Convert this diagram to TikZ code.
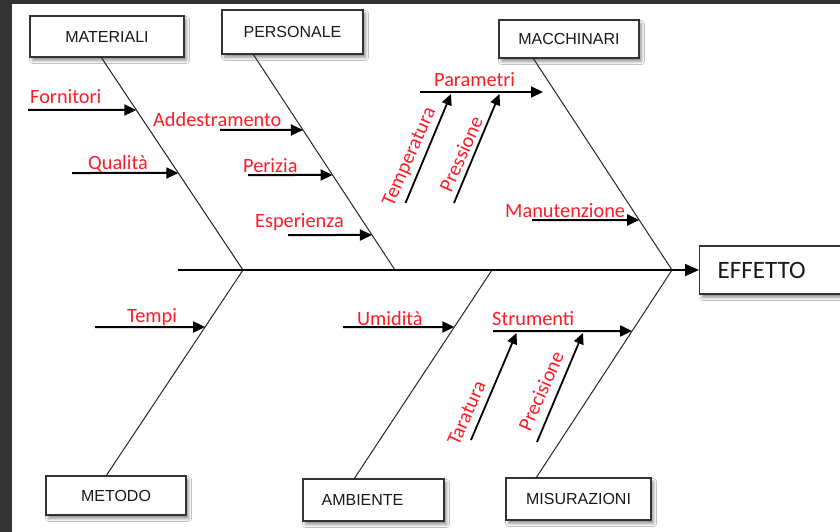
\documentclass[tikz,border=0pt]{standalone}
\usepackage{fontspec}
\setmainfont{Liberation Sans}
\newfontfamily\carl{Carlito}
\usetikzlibrary{arrows.meta,shadows.blur,calc}
\definecolor{bgdark}{HTML}{333333}
\definecolor{lbl}{RGB}{255,28,38}
\definecolor{boxline}{HTML}{333333}
\tikzset{
  catbox/.style={draw=boxline, line width=1.4pt, fill=white, inner sep=0pt,
    font=\fontsize{16}{18}\selectfont, text=black!90,
    blur shadow={shadow xshift=2.5pt, shadow yshift=-3.5pt, shadow blur radius=3pt, shadow opacity=45}},
  bone/.style={draw=black!85, line width=1pt},
  spine/.style={draw=black, line width=1.8pt, -{Triangle[length=14pt,width=12pt]}},
  sub/.style={draw=black, line width=2pt, -{Triangle[length=12pt,width=11pt]}},
  subr/.style={draw=black, line width=1.8pt, -{Triangle[length=11pt,width=10pt]}},
  lab/.style={text=lbl, font=\carl\fontsize{20.3}{22}\selectfont, inner sep=0pt, anchor=base west},
  rlab/.style={text=lbl, font=\carl\fontsize{20.3}{22}\selectfont, inner sep=0pt, anchor=center, rotate=66},
}
\begin{document}
\begin{tikzpicture}[x=1pt,y=-1pt]
\useasboundingbox (0,0) rectangle (840,532);
\clip (0,0) rectangle (840,532);
\fill[bgdark] (0,0) rectangle (840,532);
\fill[white] (12,4) rectangle (840,532);

% category boxes
\node[catbox, minimum width=154pt, minimum height=41pt] (mat) at (107,36.5) {MATERIALI};
\node[catbox, minimum width=141pt, minimum height=44pt] (per) at (292.5,32) {PERSONALE};
\node[catbox, minimum width=140pt, minimum height=38pt] (mac) at (569,39) {MACCHINARI};
\node[catbox, minimum width=140pt, minimum height=39pt] (met) at (116,495.5) {METODO};
\node[catbox, minimum width=141pt, minimum height=42pt] (amb) at (373.5,500) {\hspace*{-22pt}AMBIENTE};
\node[catbox, minimum width=145pt, minimum height=42pt] (mis) at (578.5,499) {MISURAZIONI};
\node[catbox, anchor=west, minimum height=48pt, text width=142pt, align=left, inner xsep=18pt,
      font=\carl\fontsize{25}{28}\selectfont, text=black!90] (eff) at (699,270) {EFFETTO};

% spine and junctions
\coordinate (tail) at (178,270);
\coordinate (j1) at (243,270);
\coordinate (j2) at (395,270);
\coordinate (j3) at (492,270);
\coordinate (j4) at (672,270);
\draw[spine] (tail) -- (eff.west);

% bones
\coordinate (matb) at (101,57);
\coordinate (perb) at (253,54);
\coordinate (macb) at (533,58);
\coordinate (metb) at (106,476);
\coordinate (ambb) at (354,479);
\coordinate (misb) at (536,478);
\draw[bone] (matb) -- (j1);
\draw[bone] (perb) -- (j2);
\draw[bone] (macb) -- (j4);
\draw[bone] (j1) -- (metb);
\draw[bone] (j3) -- (ambb);
\draw[bone] (j4) -- (misb);

% sub-cause arrows
\coordinate (fo0) at (28,110);  \coordinate (fo1) at ($(matb)!53/213!(j1)$);
\coordinate (qu0) at (72,173);  \coordinate (qu1) at ($(matb)!116/213!(j1)$);
\coordinate (ad0) at (220,130); \coordinate (ad1) at ($(perb)!76/216!(j2)$);
\coordinate (pe0) at (248,175); \coordinate (pe1) at ($(perb)!121/216!(j2)$);
\coordinate (es0) at (288,235); \coordinate (es1) at ($(perb)!181/216!(j2)$);
\coordinate (ma0) at (532,220); \coordinate (ma1) at ($(macb)!162/212!(j4)$);
\coordinate (pa0) at (420,92);  \coordinate (pa1) at (543,92);
\coordinate (tm0) at (95,327);  \coordinate (tm1) at ($(j1)!57/206!(metb)$);
\coordinate (um0) at (343,327); \coordinate (um1) at ($(j3)!57/209!(ambb)$);
\coordinate (st0) at (493,331); \coordinate (st1) at ($(j4)!61/208!(misb)$);
\draw[sub] (fo0) -- (fo1);
\draw[sub] (qu0) -- (qu1);
\draw[sub] (ad0) -- (ad1);
\draw[sub] (pe0) -- (pe1);
\draw[sub] (es0) -- (es1);
\draw[sub] (ma0) -- (ma1);
\draw[sub] (pa0) -- (pa1);
\draw[sub] (tm0) -- (tm1);
\draw[sub] (um0) -- (um1);
\draw[sub] (st0) -- (st1);

% slanted arrows
\coordinate (te0) at (405.5,203); \coordinate (te1) at (451,94);
\coordinate (pr0) at (454,203);   \coordinate (pr1) at (499.5,94);
\coordinate (ta0) at (471,440);   \coordinate (ta1) at (516.5,333);
\coordinate (pc0) at (537,442);   \coordinate (pc1) at (583,333);
\draw[subr] (te0) -- (te1);
\draw[subr] (pr0) -- (pr1);
\draw[subr] (ta0) -- (ta1);
\draw[subr] (pc0) -- (pc1);

% labels
\node[lab] (lfo) at (30,104) {Fornitori};
\node[lab] (lqu) at (88,169) {Qualità};
\node[lab] (lad) at (153,126) {Addestramento};
\node[lab] (lpe) at (243,172) {Perizia};
\node[lab] (les) at (255,227) {Esperienza};
\node[lab] (lpa) at (434,87) {Parametri};
\node[lab] (lma) at (505,217) {Manutenzione};
\node[lab] (ltm) at (127,322) {Tempi};
\node[lab] (lum) at (357,325.5) {Umidità};
\node[lab] (lst) at (492,325) {Strumenti};
\node[rlab] (lte) at (410,157) {Temperatura};
\node[rlab] (lpr) at (461,154) {Pressione};
\node[rlab] (lta) at (466.5,413) {Taratura};
\node[rlab] (lpc) at (541,391) {Precisione};
\end{tikzpicture}
\end{document}
